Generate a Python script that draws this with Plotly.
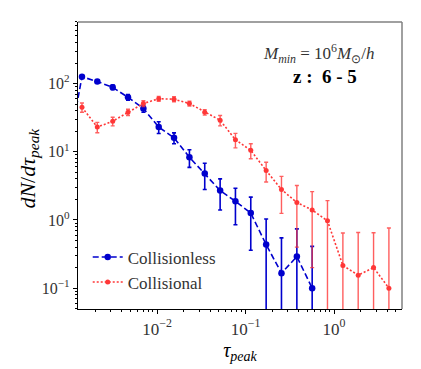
import plotly.graph_objects as go
import numpy as np

# bin centres (tau_peak)
tau = [0.000952, 0.001419, 0.002114, 0.003155, 0.004699, 0.007015, 0.01045, 0.01556,
       0.02323, 0.03460, 0.05164, 0.07691, 0.1146, 0.1710, 0.2547, 0.3802,
       0.5662, 0.8433, 1.259, 1.875, 2.797, 4.169]

# collisionless (blue), first point sits left of the axis range
cl_tau = tau[:17]
cl_val = [7.6, 126, 107, 88, 63, 43, 23, 16, 8.3, 4.8, 2.7, 1.88, 1.26, 0.435, 0.166, 0.29, 0.10]
cl_err = [1.0, 6, 5, 7, 6, 5, 4.5, 2.9, 2.4, 2.0, 1.3, 1.03, 0.9, 0.6, 0.38, 0.45, 0.31]

# collisional (red)
co_tau = tau[1:]
co_val = [45, 23, 28, 38, 51, 60, 59, 51, 38, 29, 15, 10.5, 5.3, 2.8, 1.8, 1.4, 0.97,
          0.215, 0.155, 0.2, 0.10]
co_err = [7, 4, 4, 4, 5, 5, 5, 4, 3.5, 5, 3.6, 2.6, 1.7, 1.55, 1.4, 1.2, 0.95,
          0.43, 0.5, 0.45, 0.66]

blue = "rgb(0,0,205)"
red = "rgb(255,55,55)"
serif = "'Liberation Serif', 'Times New Roman', serif"

fig = go.Figure()
fig.add_trace(go.Scatter(
    x=cl_tau, y=cl_val, mode="lines+markers", name="Collisionless",
    line=dict(color=blue, width=1.6, dash="6px,3px"),
    marker=dict(color=blue, size=6.5),
    error_y=dict(type="data", array=cl_err, visible=True, color=blue, thickness=1.6, width=2)))
fig.add_trace(go.Scatter(
    x=co_tau, y=co_val, mode="lines+markers", name="Collisional",
    line=dict(color=red, width=1.6, dash="2px,2px"),
    marker=dict(color=red, size=5),
    error_y=dict(type="data", array=co_err, visible=True, color="rgba(255,55,55,0.8)",
                 thickness=1.4, width=2)))

# tick positions
xmaj = [-2, -1, 0]
ymaj = [-1, 0, 1, 2]
sup = {-2: "\u22122", -1: "\u22121", 0: "0", 1: "1", 2: "2"}
xminor = [m * 10.0 ** d for d in range(-3, 1) for m in range(2, 10)]
yminor = [m * 10.0 ** d for d in range(-2, 3) for m in range(2, 10)]

fig.update_xaxes(
    type="log", range=[-2.893, 0.768], showgrid=False, zeroline=False,
    showline=True, linecolor="black", linewidth=1.2,
    tickmode="array", tickvals=[10.0 ** d for d in xmaj],
    ticktext=["10<sup>%s</sup>" % sup[d] for d in xmaj],
    ticks="outside", ticklen=4, tickcolor="black",
    minor=dict(tickvals=xminor, ticks="outside", ticklen=2, tickcolor="black", showgrid=False),
    tickfont=dict(family=serif, size=17, color="#333"),
    title=dict(text="<i>\u03c4<sub>peak</sub></i>", font=dict(family=serif, size=20, color="black"),
               standoff=4))
fig.update_yaxes(
    type="log", range=[-1.306, 2.903], showgrid=False, zeroline=False,
    showline=True, linecolor="black", linewidth=1.2,
    tickmode="array", tickvals=[10.0 ** d for d in ymaj],
    ticktext=["10<sup>%s</sup>" % sup[d] for d in ymaj],
    ticks="outside", ticklen=4, tickcolor="black",
    minor=dict(tickvals=yminor, ticks="outside", ticklen=2, tickcolor="black", showgrid=False),
    tickfont=dict(family=serif, size=16, color="#333"))

# gray top / right frame
fig.add_shape(type="line", xref="paper", yref="paper", x0=0, x1=1, y0=1, y1=1,
              line=dict(color="gray", width=1.5))
fig.add_shape(type="line", xref="paper", yref="paper", x0=1, x1=1, y0=0, y1=1,
              line=dict(color="gray", width=1.5))

# y axis title as annotation so it can sit closer to the ticks
fig.add_annotation(xref="paper", yref="paper", x=-0.2, y=0.49, showarrow=False,
                   textangle=-90,
                   text="<i>dN</i>/<i>d\u03c4<sub>peak</sub></i>",
                   font=dict(family=serif, size=22, color="black"))

fig.add_annotation(xref="paper", yref="paper", x=0.92, y=0.94, showarrow=False,
                   text="<i>M<sub>min</sub></i> = 10<sup>6</sup><i>M</i><sub>\u2299</sub>/<i>h</i>",
                   font=dict(family=serif, size=17, color="#333"))
fig.add_annotation(xref="paper", yref="paper", x=0.866, y=0.855, showarrow=False,
                   text="<b>z :  6 - 5</b>",
                   font=dict(family=serif, size=19, color="black"))

# page body adds an offset at top/left; shrink the figure to compensate
fig.update_layout(
    width=413, height=361,
    margin=dict(l=70, r=19, t=14, b=58),
    paper_bgcolor="white", plot_bgcolor="white",
    showlegend=True,
    legend=dict(x=0.03, y=0.03, xanchor="left", yanchor="bottom",
                bgcolor="rgba(0,0,0,0)", font=dict(family=serif, size=17, color="#333"),
                itemwidth=30, tracegroupgap=2),
)

fig.write_html("out.html")
